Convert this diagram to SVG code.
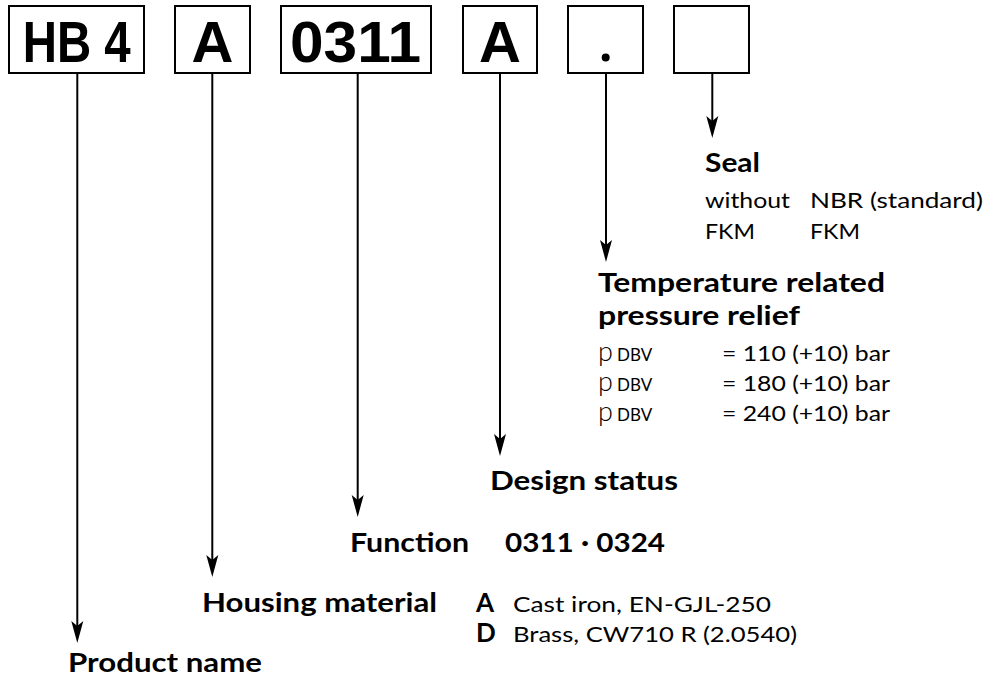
<svg xmlns="http://www.w3.org/2000/svg" width="990" height="678" viewBox="0 0 990 678">
<style>
.box{fill:#fff;stroke:#000;stroke-width:2}
.code{font-family:"Liberation Sans",Arial,sans-serif;font-weight:700;font-size:58px;fill:#000}
.con{stroke:#000;stroke-width:2;fill:none;marker-end:url(#arr)}
.t{font-family:Lato,"Noto Sans",sans-serif;font-weight:700;font-size:26px;fill:#000}
.b{font-family:Lato,"Noto Sans",sans-serif;font-weight:400;font-size:21px;fill:#000}
.p{font-size:27px;font-weight:300}
.s{font-size:17px}
</style>
<defs>
<marker id="arr" markerUnits="userSpaceOnUse" viewBox="-11 -7 24 14" markerWidth="24" markerHeight="14" refX="0" refY="0" orient="auto">
<path d="M12,0 L-10,-6 L-5,0 L-10,6 Z" fill="#000"/>
</marker>
</defs>
<rect width="990" height="678" fill="#fff"/>
<g id="box-hb4"><rect class="box" x="9" y="6" width="135" height="67"/><text class="code" x="22.7" y="62" textLength="108" lengthAdjust="spacingAndGlyphs">HB 4</text></g>
<g id="box-a1"><rect class="box" x="175" y="6" width="75" height="67"/><text class="code" x="212.5" y="62" text-anchor="middle">A</text></g>
<g id="box-0311"><rect class="box" x="281" y="6" width="150" height="67"/><text class="code" x="290" y="62" textLength="131" lengthAdjust="spacingAndGlyphs">0311</text></g>
<g id="box-a2"><rect class="box" x="463" y="6" width="74" height="67"/><text class="code" x="500" y="62" text-anchor="middle">A</text></g>
<g id="box-dot"><rect class="box" x="568" y="6" width="75" height="67"/><circle cx="605.7" cy="57.5" r="4" fill="#000"/></g>
<g id="box-empty"><rect class="box" x="674" y="6" width="75" height="67"/></g>
<g id="connectors">
<line class="con" x1="77.3" y1="73" x2="77.3" y2="631"/>
<line class="con" x1="212.3" y1="73" x2="212.3" y2="565"/>
<line class="con" x1="357.7" y1="73" x2="357.7" y2="505"/>
<line class="con" x1="500" y1="73" x2="500" y2="444"/>
<line class="con" x1="606" y1="73" x2="606" y2="250"/>
<line class="con" x1="712.3" y1="73" x2="712.3" y2="126"/>
</g>
<g id="seal">
<text class="t" x="705" y="172" textLength="55" lengthAdjust="spacingAndGlyphs">Seal</text>
<text class="b" x="705" y="208" textLength="85" lengthAdjust="spacingAndGlyphs">without</text><text class="b" x="810" y="208" textLength="173" lengthAdjust="spacingAndGlyphs">NBR (standard)</text>
<text class="b" x="705" y="239" textLength="50" lengthAdjust="spacingAndGlyphs">FKM</text><text class="b" x="810" y="239" textLength="50" lengthAdjust="spacingAndGlyphs">FKM</text>
</g>
<g id="temperature">
<text class="t" x="598" y="292" textLength="287" lengthAdjust="spacingAndGlyphs">Temperature related</text>
<text class="t" x="598" y="325" textLength="202" lengthAdjust="spacingAndGlyphs">pressure relief</text>
<text class="b" x="598" y="361"><tspan class="p">p</tspan><tspan class="s" x="617">DBV</tspan></text><text class="b" x="722" y="361" textLength="168" lengthAdjust="spacingAndGlyphs">= 110 (+10) bar</text>
<text class="b" x="598" y="391"><tspan class="p">p</tspan><tspan class="s" x="617">DBV</tspan></text><text class="b" x="722" y="391" textLength="168" lengthAdjust="spacingAndGlyphs">= 180 (+10) bar</text>
<text class="b" x="598" y="421"><tspan class="p">p</tspan><tspan class="s" x="617">DBV</tspan></text><text class="b" x="722" y="421" textLength="168" lengthAdjust="spacingAndGlyphs">= 240 (+10) bar</text>
</g>
<g id="design"><text class="t" x="490" y="490" textLength="188" lengthAdjust="spacingAndGlyphs">Design status</text></g>
<g id="function"><text class="t" x="350" y="552" textLength="119" lengthAdjust="spacingAndGlyphs">Function</text><text class="t" x="505" y="552" textLength="160" lengthAdjust="spacingAndGlyphs">0311 · 0324</text></g>
<g id="housing">
<text class="t" x="202" y="612" textLength="235" lengthAdjust="spacingAndGlyphs">Housing material</text>
<text class="t" x="476" y="612">A</text><text class="b" x="513" y="612" textLength="258" lengthAdjust="spacingAndGlyphs">Cast iron, EN-GJL-250</text>
<text class="t" x="476" y="642">D</text><text class="b" x="513" y="642" textLength="284" lengthAdjust="spacingAndGlyphs">Brass, CW710 R (2.0540)</text>
</g>
<g id="product"><text class="t" x="68" y="672" textLength="194" lengthAdjust="spacingAndGlyphs">Product name</text></g>
</svg>
